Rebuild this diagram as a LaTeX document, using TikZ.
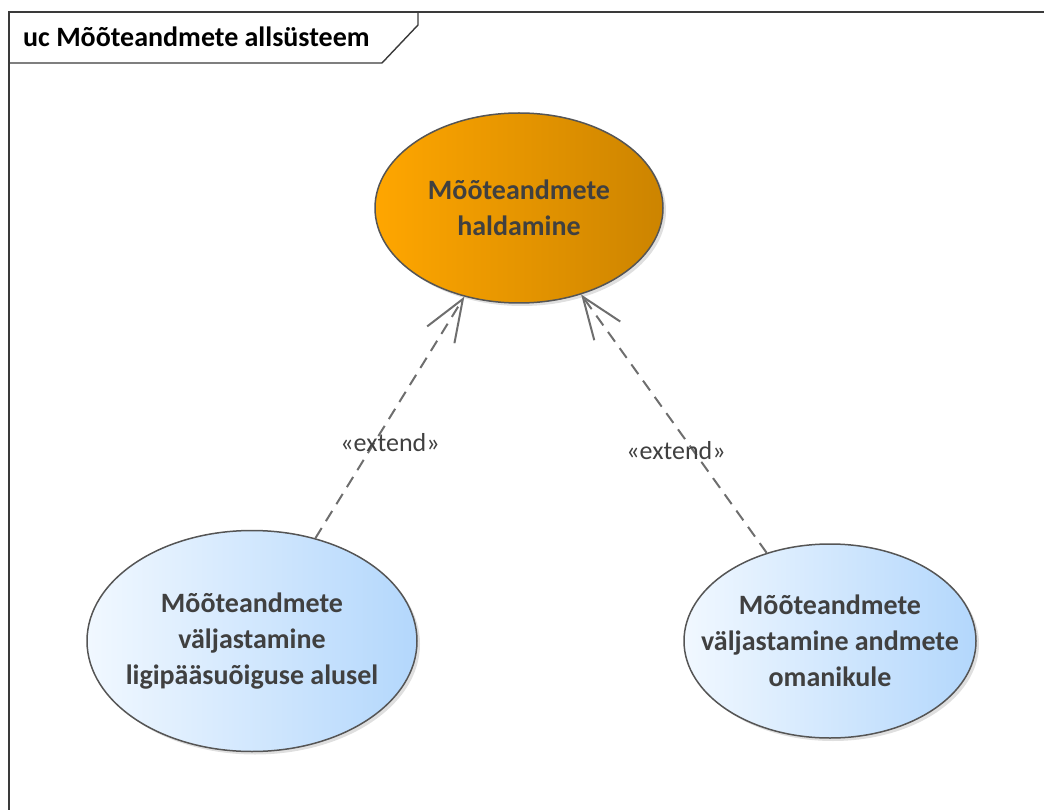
\documentclass[tikz,border=0pt]{standalone}
\usepackage{fontspec}
\setmainfont{Carlito}
\usetikzlibrary{shapes.geometric,arrows.meta,shadows}

\definecolor{framecol}{HTML}{3A3A3A}
\definecolor{edgecol}{HTML}{555555}
\definecolor{linkcol}{HTML}{6E6E6E}
\definecolor{txtcol}{HTML}{404040}
\definecolor{orangeL}{HTML}{FFA600}
\definecolor{orangeR}{HTML}{CC8400}
\definecolor{blueL}{HTML}{F1F8FF}
\definecolor{blueR}{HTML}{B3D7FC}

\tikzset{
  usecase/.style={ellipse, draw=edgecol, line width=1.5pt,
    inner xsep=-30pt, inner ysep=0pt,
    align=center, text=txtcol, font=\fontsize{28}{36}\selectfont\bfseries,
    drop shadow={shadow xshift=3pt, shadow yshift=-3pt, opacity=0.25}},
  maincase/.style={usecase, left color=orangeL, right color=orangeR},
  subcase/.style={usecase, left color=blueL, right color=blueR},
  extendlink/.style={draw=linkcol, line width=2pt, dash pattern=on 12pt off 8pt,
    -{Straight Barb[length=42pt, width=32pt, line width=2pt]}},
  linklabel/.style={text=txtcol, font=\fontsize{26}{30}\selectfont, inner sep=1pt}
}

\begin{document}
\begin{tikzpicture}[x=1pt, y=-1pt]
  \useasboundingbox (0,0) rectangle (1044,810);

  % diagram frame and its name tab
  \draw[framecol, line width=1.6pt] (1044,12) -- (9,12) -- (9,812);
  \draw[framecol, line width=1.4pt] (9,63) -- (382,63) -- (418,25) -- (418,12);
  \node[anchor=west, inner sep=0pt, font=\fontsize{28}{32}\selectfont\bfseries, text=black]
    (title) at (23,37) {uc Mõõteandmete allsüsteem};

  % use cases
  \node[maincase, minimum width=288pt, minimum height=190pt] (hald) at (519,208)
    {Mõõteandmete\\haldamine};
  \node[subcase, minimum width=330pt, minimum height=221pt] (ligi) at (252,641)
    {Mõõteandmete\\väljastamine\\ligipääsuõiguse alusel};
  \node[subcase, minimum width=292pt, minimum height=194pt] (oman) at (830,641)
    {Mõõteandmete\\väljastamine andmete\\omanikule};

  % extend relations
  \draw[extendlink] (ligi) -- (hald);
  \draw[extendlink] (oman) -- (hald);
  \node[linklabel] (lblA) at (390,443) {«extend»};
  \node[linklabel] (lblB) at (676,451) {«extend»};
\end{tikzpicture}
\end{document}
